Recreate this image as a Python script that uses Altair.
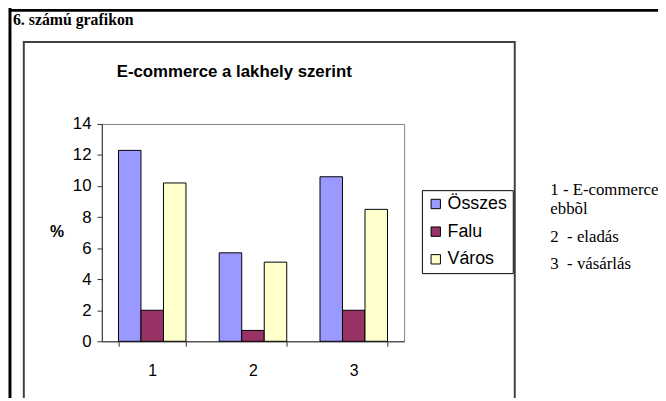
import altair as alt
import pandas as pd

# ---- data ----
groups = ["1", "2", "3"]
series = ["Összes", "Falu", "Város"]
osszes = [12.3, 5.7, 10.6]
falu = [2.0, 0.7, 2.0]
varos = [10.2, 5.1, 8.5]
colors = ["#9999FF", "#993366", "#FFFFCC"]
y_ticks = [0, 2, 4, 6, 8, 10, 12, 14]

header_text = "6. számú grafikon"
chart_title = "E-commerce a lakhely szerint"
y_title = "%"
note_lines = ["1 - E-commerce", "ebbõl", "2\u00a0 - eladás", "3\u00a0 - vásárlás"]

rows = []
for i, g in enumerate(groups):
    for s, vals in zip(series, [osszes, falu, varos]):
        rows.append({"group": g, "series": s, "value": vals[i]})
df = pd.DataFrame(rows)

# ---- layout (plot area in page px: x 103..409, y 123..343) ----
W, H = 306, 220
PL, PT = 95, 115
TOTAL_W, TOTAL_H = 658, 390
PR = TOTAL_W - PL - W
PB = TOTAL_H - PT - H

SANS = "Liberation Sans"
SERIF = "Liberation Serif"

bars = alt.Chart(df).mark_bar(stroke="black", strokeWidth=1).encode(
    x=alt.X(
        "group:N",
        sort=groups,
        scale=alt.Scale(paddingInner=0.33, paddingOuter=0.165),
        axis=alt.Axis(
            title=None, labelAngle=0, labelFont=SANS, labelFontSize=16,
            labelColor="black", tickBand="extent", tickSize=5,
            tickColor="#333333", domainColor="#333333", labelPadding=17,
        ),
    ),
    xOffset=alt.XOffset("series:N", sort=series,
                        scale=alt.Scale(paddingInner=0, paddingOuter=0)),
    y=alt.Y(
        "value:Q",
        scale=alt.Scale(domain=[0, 14], nice=False),
        axis=alt.Axis(
            values=y_ticks, grid=False, title=y_title, titleAngle=0,
            titleX=-46, titleY=109, titleAlign="center",
            titleBaseline="middle", titleFont=SANS, titleFontSize=16,
            titleFontWeight="bold", titleColor="black",
            labelFont=SANS, labelFontSize=17, labelColor="black",
            tickSize=5, tickColor="#333333", domainColor="#333333",
            labelPadding=6,
        ),
    ),
    color=alt.Color(
        "series:N",
        sort=series,
        scale=alt.Scale(domain=series, range=colors),
        legend=alt.Legend(
            title=None, orient="none", legendX=324, legendY=67,
            strokeColor="black", fillColor="white", padding=5,
            symbolType="square", symbolSize=90, symbolStrokeColor="black",
            symbolStrokeWidth=1, labelFont=SANS, labelFontSize=18,
            labelColor="black", rowPadding=10, labelOffset=3,
        ),
    ),
)

one = pd.DataFrame({"k": [0]})

title_mark = alt.Chart(one).mark_text(
    text=chart_title, font=SANS, fontSize=17, fontWeight="bold",
    align="center", baseline="middle", color="black",
).encode(x=alt.value(134), y=alt.value(-53))

header_mark = alt.Chart(one).mark_text(
    text=header_text, font=SERIF, fontSize=16, fontWeight="bold",
    align="left", baseline="middle", color="black",
).encode(x=alt.value(-90), y=alt.value(-105))

note_y = [67, 86, 114, 142]
note_layers = [
    alt.Chart(one).mark_text(
        text=t, font=SERIF, fontSize=17, align="left", baseline="middle",
        color="black",
    ).encode(x=alt.value(454), y=alt.value(yy))
    for t, yy in zip(note_lines, note_y)
]

# chart frame box
frame = alt.Chart(one).mark_rect(
    fill="transparent", stroke="#404040", strokeWidth=2,
).encode(x=alt.value(-79), x2=alt.value(418), y=alt.value(-83), y2=alt.value(400))

# outer page border (left and top)
outer_left = alt.Chart(one).mark_rule(color="black", strokeWidth=3).encode(
    x=alt.value(-93), y=alt.value(-120), y2=alt.value(400))
outer_top = alt.Chart(one).mark_rule(color="black", strokeWidth=3).encode(
    x=alt.value(-94), x2=alt.value(600), y=alt.value(-115))

chart = alt.layer(
    frame, outer_left, outer_top, bars, title_mark, header_mark, *note_layers
).properties(
    width=W, height=H,
    padding={"left": PL, "top": PT, "right": PR, "bottom": PB},
    autosize=alt.AutoSizeParams(type="none"),
).configure_view(stroke="#808080", strokeWidth=1)

chart.save("out.html", embed_options={"renderer": "svg", "actions": False})
